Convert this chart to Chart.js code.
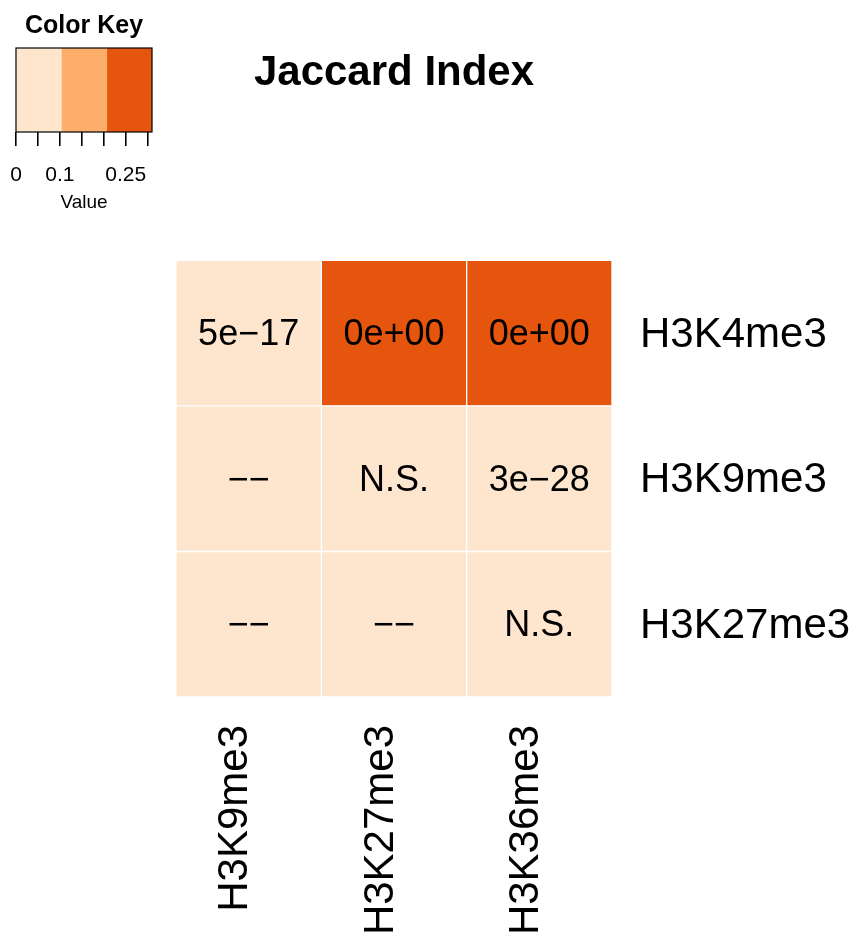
<!DOCTYPE html>
<html>
<head>
<meta charset="utf-8">
<script src="https://cdn.jsdelivr.net/npm/chart.js@4/dist/chart.umd.min.js"></script>
<style>
  html, body { margin: 0; padding: 0; background: #ffffff; }
  #wrap { position: relative; width: 856px; height: 935px; }
  #main { position: absolute; left: 0; top: 0; }
  #key { position: absolute; left: 0; top: 0; }
</style>
</head>
<body>
<div id="wrap">
  <canvas id="main" width="856" height="935"></canvas>
  <canvas id="key" width="170" height="220"></canvas>
</div>
<script>
// ---- data ----
const rowLabels = ['H3K4me3', 'H3K9me3', 'H3K27me3'];
const colLabels = ['H3K9me3', 'H3K27me3', 'H3K36me3'];
// Jaccard index per cell (rows x cols), estimated from colour bins
const jaccardK4  = [0.06, 0.31, 0.30];
const jaccardK9  = [0.00, 0.02, 0.05];
const jaccardK27 = [0.00, 0.00, 0.01];
// p-value annotations per cell
const pvalK4  = ['5e\u221217', '0e+00', '0e+00'];
const pvalK9  = ['\u2212\u2212', 'N.S.', '3e\u221228'];
const pvalK27 = ['\u2212\u2212', '\u2212\u2212', 'N.S.'];
// colour key
const keyBreaks = [0, 0.1035, 0.207, 0.31];
const keyColors = ['#FEE6CE', '#FDAE6B', '#E6550D'];
const keyTicks = [0, 0.05, 0.1, 0.15, 0.2, 0.25, 0.3];
const keyTickLabels = ['0', '', '0.1', '', '', '0.25', ''];

const jaccard = [jaccardK4, jaccardK9, jaccardK27];
const pvals = [pvalK4, pvalK9, pvalK27];
const FONT = 'Liberation Sans, Arial, Helvetica, sans-serif';

function binColor(v) {
  for (let b = 0; b < keyColors.length; b++) {
    if (v <= keyBreaks[b + 1]) return keyColors[b];
  }
  return keyColors[keyColors.length - 1];
}

// ---- main heatmap ----
const datasets = colLabels.map((c, j) => ({
  label: c,
  data: rowLabels.map(() => [j, j + 1]),
  backgroundColor: rowLabels.map((r, i) => binColor(jaccard[i][j])),
  borderColor: '#ffffff',
  borderWidth: 1,
  borderSkipped: false,
  barPercentage: 1,
  categoryPercentage: 1,
  grouped: false
}));

const cellText = {
  id: 'cellText',
  afterDatasetsDraw(chart) {
    const ctx = chart.ctx;
    ctx.save();
    ctx.fillStyle = '#000';
    ctx.font = '36px ' + FONT;
    ctx.textAlign = 'center';
    ctx.textBaseline = 'middle';
    chart.data.datasets.forEach((ds, j) => {
      chart.getDatasetMeta(j).data.forEach((el, i) => {
        const p = el.getCenterPoint();
        ctx.fillText(pvals[i][j], p.x, p.y + 2);
      });
    });
    ctx.restore();
  }
};

new Chart(document.getElementById('main'), {
  type: 'bar',
  data: { labels: rowLabels, datasets },
  options: {
    indexAxis: 'y',
    responsive: false,
    animation: false,
    devicePixelRatio: 1,
    layout: { padding: { left: 176, right: 0, top: 0, bottom: 0 } },
    plugins: {
      legend: { display: false },
      tooltip: { enabled: false },
      title: {
        display: true,
        text: 'Jaccard Index',
        fullSize: false,
        color: '#000',
        font: { family: FONT, size: 42, weight: 'bold', lineHeight: 1.2 },
        padding: { top: 48, bottom: 162 }
      }
    },
    scales: {
      x: {
        type: 'linear',
        position: 'bottom',
        min: 0, max: 3,
        afterBuildTicks(scale) { scale.ticks = colLabels.map((c, j) => ({ value: j + 0.5 })); },
        afterFit(scale) { scale.height = 238; },
        grid: { display: false, drawTicks: false },
        border: { display: false },
        ticks: {
          autoSkip: false,
          minRotation: 90, maxRotation: 90,
          padding: 28,
          labelOffset: -13,
          color: '#000',
          font: { family: FONT, size: 42 },
          callback: (v) => colLabels[Math.floor(v)]
        }
      },
      y: {
        type: 'category',
        position: 'right',
        afterFit(scale) { scale.width = 244; },
        grid: { display: false, drawTicks: false },
        border: { display: false },
        ticks: {
          padding: 28,
          labelOffset: 2,
          color: '#000',
          font: { family: FONT, size: 42 }
        }
      }
    }
  },
  plugins: [cellText]
});

// ---- colour key ----
const boxOutline = {
  id: 'boxOutline',
  afterDatasetsDraw(chart) {
    const { ctx, chartArea: a } = chart;
    ctx.save();
    ctx.strokeStyle = '#000';
    ctx.lineWidth = 1.2;
    ctx.strokeRect(a.left, a.top, a.right - a.left, a.bottom - a.top);
    ctx.restore();
  }
};

new Chart(document.getElementById('key'), {
  type: 'bar',
  data: {
    labels: ['key'],
    datasets: keyColors.map((col, b) => ({
      data: [[keyBreaks[b], keyBreaks[b + 1]]],
      backgroundColor: col,
      borderWidth: 0,
      barPercentage: 1,
      categoryPercentage: 1,
      grouped: false
    }))
  },
  options: {
    indexAxis: 'y',
    responsive: false,
    animation: false,
    devicePixelRatio: 1,
    layout: { padding: { left: 16, right: 18, top: 0, bottom: 0 } },
    plugins: {
      legend: { display: false },
      tooltip: { enabled: false },
      title: {
        display: true,
        text: 'Color Key',
        color: '#000',
        fullSize: false,
        font: { family: FONT, size: 25, weight: 'bold', lineHeight: 1.2 },
        padding: { top: 11, bottom: 7 }
      }
    },
    scales: {
      x: {
        type: 'linear',
        min: 0, max: keyBreaks[keyBreaks.length - 1],
        afterBuildTicks(scale) { scale.ticks = keyTicks.map(v => ({ value: v })); },
        afterFit(scale) { scale.height = 88; scale.paddingLeft = 0; scale.paddingRight = 0; },
        grid: { drawOnChartArea: false, drawTicks: true, tickLength: 14, color: '#000', lineWidth: 1.6 },
        border: { display: false },
        ticks: {
          autoSkip: false,
          maxRotation: 0,
          padding: 17,
          color: '#000',
          font: { family: FONT, size: 21 },
          callback: (v, idx) => keyTickLabels[idx]
        },
        title: {
          display: true,
          text: 'Value',
          color: '#000',
          font: { family: FONT, size: 19 },
          padding: { top: 0, bottom: 6 }
        }
      },
      y: { display: false }
    }
  },
  plugins: [boxOutline]
});
</script>
</body>
</html>
